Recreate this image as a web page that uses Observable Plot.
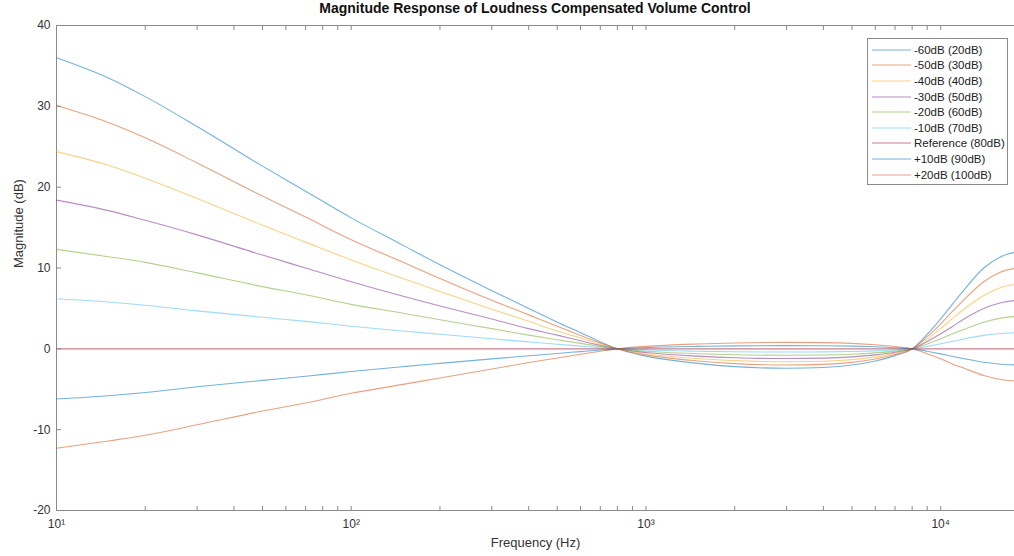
<!DOCTYPE html>
<html><head><meta charset="utf-8">
<script src="https://cdn.jsdelivr.net/npm/d3@7"></script>
<script src="https://cdn.jsdelivr.net/npm/@observablehq/plot@0.6"></script>
<style>
body{margin:0;background:#fff;font-family:"Liberation Sans",Arial,sans-serif;}
#wrap{position:relative;width:1014px;height:556px;overflow:hidden;background:#fff}
#title{position:absolute;left:56px;width:958px;top:0px;text-align:center;font-weight:bold;font-size:14px;color:#111;line-height:16px}
#chart{position:absolute;top:18px;left:0}
#legend{position:absolute;left:867px;top:38px;width:141px;border:1px solid #8a8a8a;background:#fff;padding-top:3px;padding-bottom:2px;box-sizing:border-box}
.row{height:15.6px;display:flex;align-items:center;font-size:11.5px;color:#222;white-space:nowrap}
.sw{width:39px;height:4px;margin-left:4px;margin-right:3px;flex:none;display:block}
</style></head>
<body>
<div id="wrap">
<div id="title">Magnitude Response of Loudness Compensated Volume Control</div>
<div id="chart"></div>
<div id="legend"></div>
</div>
<script>
const freq = [10, 15, 20, 30, 50, 70, 100, 150, 200, 300, 400, 500, 600, 700, 800, 1000, 1500, 2000, 3000, 4000, 5000, 6000, 7000, 8000, 9000, 10000, 11000, 12000, 14000, 16000, 18000];

const seriesNames = ["-60dB (20dB)", "-50dB (30dB)", "-40dB (40dB)", "-30dB (50dB)", "-20dB (60dB)", "-10dB (70dB)", "Reference (80dB)", "+10dB (90dB)", "+20dB (100dB)"];
const seriesColors = ["#0072BD", "#D95319", "#EDB120", "#7E2F8E", "#77AC30", "#4DBEEE", "#A2142F", "#0072BD", "#D95319"];

const m60 = [36, 33.5, 31.2, 27.5, 22.6, 19.5, 16.2, 12.8, 10.4, 7.2, 5.0, 3.3, 2.0, 0.86, 0, -0.9, -1.8, -2.2, -2.4, -2.3, -2.0, -1.5, -0.84, 0, 1.8, 3.7, 5.6, 7.3, 10.0, 11.4, 12];
const m50 = [30.1, 28.0, 26.1, 23.0, 18.9, 16.3, 13.5, 10.7, 8.7, 6.0, 4.2, 2.8, 1.66, 0.72, 0, -0.75, -1.5, -1.83, -2.0, -1.92, -1.67, -1.25, -0.7, 0, 1.5, 3.1, 4.7, 6.1, 8.3, 9.5, 10];
const m40 = [24.4, 22.7, 21.1, 18.6, 15.3, 13.2, 11.0, 8.7, 7.1, 4.9, 3.4, 2.2, 1.34, 0.59, 0, -0.6, -1.2, -1.46, -1.6, -1.54, -1.34, -1.0, -0.56, 0, 1.2, 2.5, 3.8, 4.9, 6.6, 7.6, 8];
const m30 = [18.4, 17.1, 15.9, 14.1, 11.6, 10.0, 8.3, 6.5, 5.3, 3.7, 2.5, 1.7, 1.0, 0.44, 0, -0.45, -0.9, -1.1, -1.2, -1.15, -1.0, -0.75, -0.42, 0, 0.9, 1.86, 2.8, 3.7, 5.0, 5.7, 6];
const m20 = [12.3, 11.4, 10.7, 9.4, 7.7, 6.7, 5.5, 4.4, 3.6, 2.5, 1.7, 1.13, 0.68, 0.3, 0, -0.3, -0.6, -0.73, -0.8, -0.77, -0.67, -0.5, -0.28, 0, 0.6, 1.24, 1.9, 2.4, 3.3, 3.8, 4];
const m10 = [6.2, 5.8, 5.4, 4.7, 3.9, 3.4, 2.8, 2.2, 1.8, 1.24, 0.86, 0.57, 0.34, 0.15, 0, -0.15, -0.3, -0.37, -0.4, -0.38, -0.33, -0.25, -0.14, 0, 0.3, 0.62, 0.94, 1.22, 1.66, 1.9, 2];
const ref = [0, 0, 0, 0, 0, 0, 0, 0, 0, 0, 0, 0, 0, 0, 0, 0, 0, 0, 0, 0, 0, 0, 0, 0, 0, 0, 0, 0, 0, 0, 0];
const p10 = [-6.2, -5.8, -5.4, -4.7, -3.9, -3.4, -2.8, -2.2, -1.8, -1.24, -0.86, -0.57, -0.34, -0.15, 0, 0.15, 0.3, 0.37, 0.4, 0.38, 0.33, 0.25, 0.14, 0, -0.3, -0.62, -0.94, -1.22, -1.66, -1.9, -2];
const p20 = [-12.3, -11.4, -10.7, -9.4, -7.7, -6.7, -5.5, -4.4, -3.6, -2.5, -1.7, -1.13, -0.68, -0.3, 0, 0.3, 0.6, 0.73, 0.8, 0.77, 0.67, 0.5, 0.28, 0, -0.6, -1.24, -1.9, -2.4, -3.3, -3.8, -4];

const seriesValues = [m60, m50, m40, m30, m20, m10, ref, p10, p20];

const yTicks = [-20, -10, 0, 10, 20, 30, 40];
const xMajor = [10, 100, 1000, 10000];
const xMinor = [10,20,30,40,50,60,70,80,90,100,200,300,400,500,600,700,800,900,1000,2000,3000,4000,5000,6000,7000,8000,9000,10000];
const xDomain = [10, 17800];
const yDomain = [-20, 40];

const data = [];
seriesNames.forEach((s, i) => freq.forEach((f, j) => data.push({s, f, v: seriesValues[i][j]})));

const sup = {1: "\u00B9", 2: "\u00B2", 3: "\u00B3", 4: "\u2074"};
const axisColor = "#8a8a8a";

const chart = Plot.plot({
  width: 1014,
  height: 538,
  marginLeft: 56,
  marginRight: 0,
  marginTop: 7,
  marginBottom: 46,
  style: {fontFamily: "Liberation Sans, Arial, sans-serif", fontSize: "12px", color: "#333", background: "#fff"},
  x: {type: "log", domain: xDomain},
  y: {domain: yDomain},
  color: {domain: seriesNames, range: seriesColors},
  marks: [
    Plot.ruleY([yDomain[0]], {stroke: axisColor}),
    Plot.ruleY([yDomain[1]], {stroke: axisColor}),
    Plot.ruleX([xDomain[0]], {stroke: axisColor}),
    Plot.line(data, {x: "f", y: "v", z: "s", stroke: "s", curve: "monotone-x", strokeWidth: 1.1, strokeOpacity: 0.55, clip: true}),
    Plot.axisY({ticks: yTicks, tickSize: 0, tickPadding: 6, tickFormat: d => String(d), label: null, stroke: axisColor}),
    Plot.axisY({ticks: yTicks, tickSize: 5, dx: 5, tickFormat: () => "", label: null, stroke: axisColor}),
    Plot.axisX({ticks: xMajor, tickSize: 0, tickPadding: 9, tickFormat: d => "10" + sup[Math.round(Math.log10(d))], label: null}),
    Plot.axisX({ticks: xMinor, tickSize: 4, dy: -4, tickFormat: () => "", label: null, stroke: axisColor}),
    Plot.axisX({anchor: "top", ticks: xMinor, tickSize: 4, dy: 4, tickFormat: () => "", label: null, stroke: axisColor}),
    Plot.text(["Magnitude (dB)"], {frameAnchor: "left", dx: -38, rotate: -90, fontSize: 13, fill: "#333"}),
    Plot.text(["Frequency (Hz)"], {frameAnchor: "bottom", dy: 36, fontSize: 13, fill: "#333"})
  ]
});
document.getElementById("chart").appendChild(chart);

const legend = d3.select("#legend");
seriesNames.forEach((s, i) => {
  const row = legend.append("div").attr("class", "row");
  const sw = row.append("svg").attr("class", "sw").attr("width", 39).attr("height", 4);
  sw.append("line").attr("x1", 0).attr("x2", 39).attr("y1", 2).attr("y2", 2)
    .attr("stroke", seriesColors[i]).attr("stroke-width", 1.1).attr("stroke-opacity", 0.55);
  row.append("span").text(s);
});
</script>
</body></html>
